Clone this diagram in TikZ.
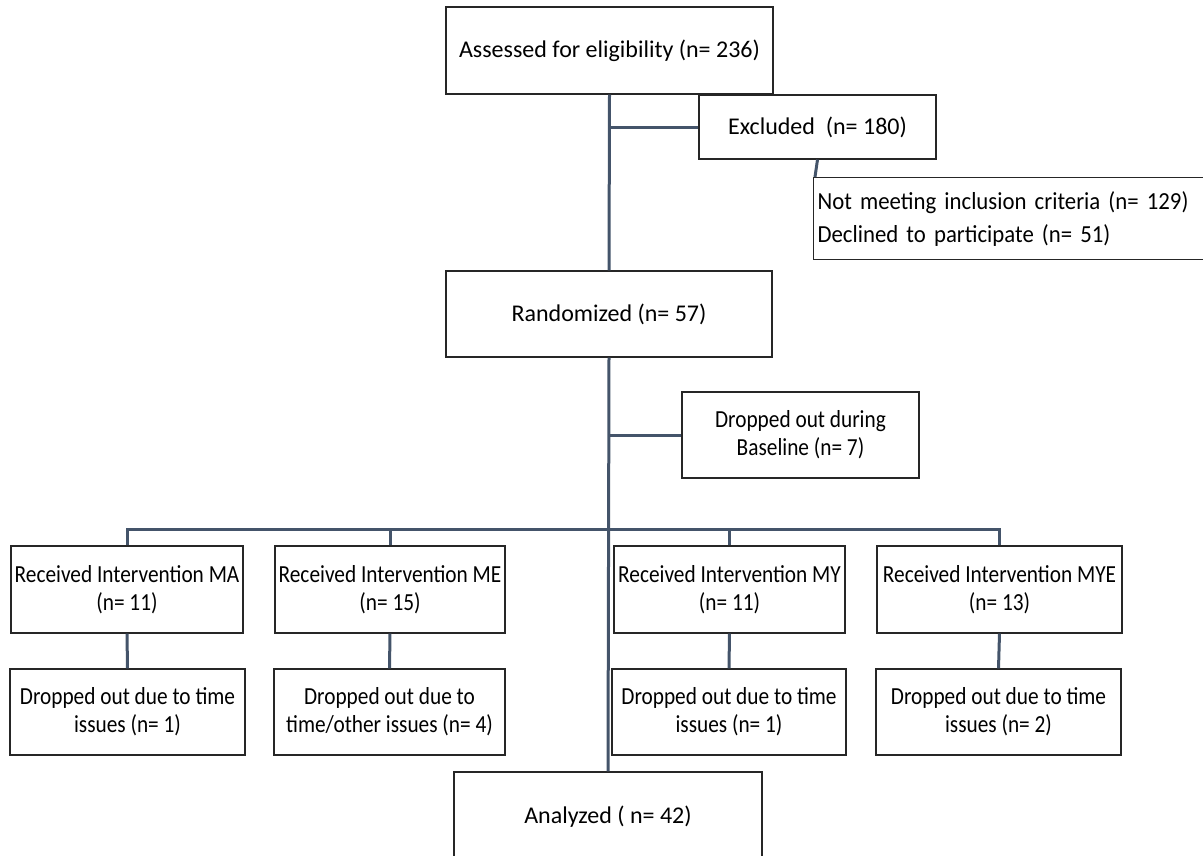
\documentclass[tikz,border=0pt]{standalone}
\usepackage{fontspec}
\setmainfont{Carlito}
\newfontfamily\narrowtext[FakeStretch=0.87]{Carlito}
\newfontfamily\crittext[FakeStretch=0.93]{Carlito}
\usepackage{xcolor}
\usepackage{tikz}
\definecolor{flowline}{HTML}{44546A}
\tikzset{
    every node/.style={font=\fontsize{24}{28}\selectfont, inner sep=0pt},
    box/.style={draw=black!85, line width=1.2pt, rectangle, align=center},
    narrowbox/.style={box, font=\narrowtext\fontsize{24.5}{28}\selectfont},
    link/.style={draw=flowline, line width=3pt}
}

\begin{document}
\begin{tikzpicture}[x=1pt, y=-1pt]
            \useasboundingbox (0,0) rectangle (1203,855);
            \node[box, minimum width=327, minimum height=87] (assess) at (609.5,50.5) {Assessed for eligibility (n= 236)};
            \node[box, minimum width=237, minimum height=64] (excl) at (817.5,127) {Excluded~~(n= 180)};
            \node[box, font=\crittext\fontsize{24.5}{28}\selectfont, minimum width=394, minimum height=82, align=left, anchor=north west, text width=386, inner xsep=4pt] (crit) at (813,177) {Not meeting inclusion criteria (n= 129)\\[5pt]Declined to participate (n= 51)};
            \node[box, minimum width=326, minimum height=86] (rand) at (609,314) {Randomized (n= 57)};
            \node[narrowbox, minimum width=237, minimum height=86] (base) at (800.5,435) {Dropped out during\\Baseline (n= 7)};

            \node[narrowbox, minimum width=232, minimum height=87] (ma) at (127,589.5) {Received Intervention MA\\(n= 11)};
            \node[narrowbox, minimum width=230, minimum height=87] (me) at (390,589.5) {Received Intervention ME\\(n= 15)};
            \node[narrowbox, minimum width=231, minimum height=87] (my) at (729.5,589.5) {Received Intervention MY\\(n= 11)};
            \node[narrowbox, minimum width=245, minimum height=87] (mye) at (999.5,589.5) {Received Intervention MYE\\(n= 13)};

            \node[narrowbox, minimum width=235, minimum height=86] (dma) at (127.5,712) {Dropped out due to time\\issues (n= 1)};
            \node[narrowbox, minimum width=231, minimum height=86] (dme) at (389.5,712) {Dropped out due to\\time/other issues (n= 4)};
            \node[narrowbox, minimum width=234, minimum height=86] (dmy) at (729,712) {Dropped out due to time\\issues (n= 1)};
            \node[narrowbox, minimum width=245, minimum height=86] (dmye) at (998.5,712) {Dropped out due to time\\issues (n= 2)};

            \node[box, minimum width=308, minimum height=90] (anal) at (608,817) {Analyzed ( n= 42)};

            \coordinate (split) at (609,529);

            \draw[link] (assess.south) -- (rand.north);
            \draw[link] (assess.south |- excl.west) -- (excl.west);
            \draw[link] (excl.south) -- (crit.north west -| 815,0);
            \draw[link] (rand.south) -- (anal.north);
            \draw[link] (rand.south |- base.west) -- (base.west);
            \draw[link] (ma.north) -- (ma.north |- split) -- (mye.north |- split) -- (mye.north);
            \draw[link] (me.north) -- (me.north |- split);
            \draw[link] (my.north) -- (my.north |- split);
            \foreach \g in {ma, me, my, mye}
                \draw[link] (\g.south) -- (d\g.north);
        \end{tikzpicture}
\end{document}
